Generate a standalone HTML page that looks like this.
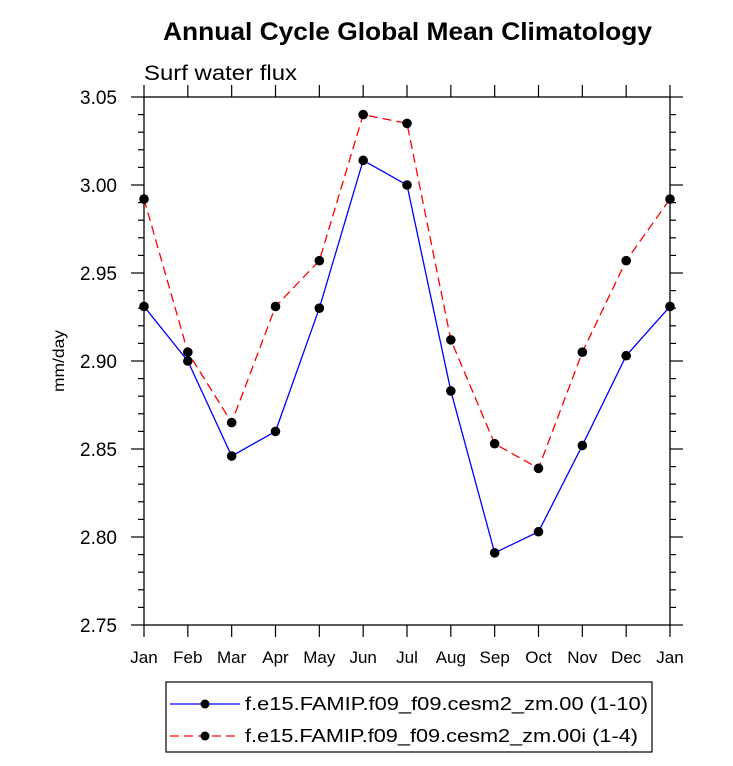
<!DOCTYPE html>
<html><head><meta charset="utf-8"><style>body{margin:0;background:#fff}svg text{font-family:"Liberation Sans",sans-serif}</style></head>
<body>
<svg id="c" width="733" height="761">
<text x="163" y="40" font-size="25" font-weight="bold" textLength="489" lengthAdjust="spacingAndGlyphs">Annual Cycle Global Mean Climatology</text>
<text x="144" y="80" font-size="21" textLength="153" lengthAdjust="spacingAndGlyphs">Surf water flux</text>
<text transform="translate(64,361) rotate(-90)" text-anchor="middle" font-size="16" textLength="62" lengthAdjust="spacingAndGlyphs">mm/day</text>
<g id="ax"></g><g id="series"></g>
<g>
<rect x="166" y="682" width="486" height="70" fill="none" stroke="#000" stroke-width="1.2"/>
<g>
<line x1="170" y1="704" x2="240" y2="704" stroke="#00f" stroke-width="1.3"/><circle cx="205" cy="704" r="4.5"/>
<text x="245" y="710" font-size="18" textLength="403" lengthAdjust="spacingAndGlyphs">f.e15.FAMIP.f09_f09.cesm2_zm.00 (1-10)</text></g>
<g>
<line x1="170" y1="736" x2="240" y2="736" stroke="#f00" stroke-width="1.3" stroke-dasharray="9,5"/><circle cx="205" cy="736" r="4.5"/>
<text x="245" y="742" font-size="18" textLength="393" lengthAdjust="spacingAndGlyphs">f.e15.FAMIP.f09_f09.cesm2_zm.00i (1-4)</text></g>
</g>
</svg>
<script>
const months=["Jan","Feb","Mar","Apr","May","Jun","Jul","Aug","Sep","Oct","Nov","Dec","Jan"];
const seriesA=[2.931,2.900,2.846,2.860,2.930,3.014,3.000,2.883,2.791,2.803,2.852,2.903,2.931];
const seriesB=[2.992,2.905,2.865,2.931,2.957,3.040,3.035,2.912,2.853,2.839,2.905,2.957,2.992];
const yTicks=["2.75","2.80","2.85","2.90","2.95","3.00","3.05"];
const L=144,R=670,T=97,B=625,yMin=2.75,yMax=3.05;
const X=i=>L+(R-L)*i/(months.length-1);
const Y=v=>B-(v-yMin)/(yMax-yMin)*(B-T);
const NS="http://www.w3.org/2000/svg";
function mk(tag,attrs,parent){const e=document.createElementNS(NS,tag);for(const k in attrs)e.setAttribute(k,attrs[k]);parent.appendChild(e);return e;}
const ax=document.getElementById('ax');
const frame=mk('rect',{x:L,y:T,width:R-L,height:B-T,fill:'none',stroke:'#000','stroke-width':1.3},ax);


months.forEach((m,i)=>{const x=X(i);
mk('line',{x1:x,y1:B,x2:x,y2:B+12,stroke:'#000','stroke-width':1.2},ax);
mk('line',{x1:x,y1:T,x2:x,y2:T-12,stroke:'#000','stroke-width':1.2},ax);
const t=mk('text',{x:x,y:B+38,'text-anchor':'middle','font-size':17},ax);t.textContent=m;

});
for(let v=yMin;v<=yMax+1e-9;v+=0.01){const y=Y(v);const major=Math.round(v*100)%5===0;const len=major?13:6;
mk('line',{x1:L-len,y1:y,x2:L,y2:y,stroke:'#000','stroke-width':1.2},ax);
mk('line',{x1:R,y1:y,x2:R+len,y2:y,stroke:'#000','stroke-width':1.2},ax);}
yTicks.forEach(s=>{const t=mk('text',{x:L-27,y:Y(+s)+7,'text-anchor':'end','font-size':19},ax);t.textContent=s;

});
const sg=document.getElementById('series');
function draw(vals,color,dash,name){const g=mk('g',{},sg);


mk('polyline',{points:vals.map((v,i)=>X(i)+','+Y(v)).join(' '),fill:'none',stroke:color,'stroke-width':1.3,'stroke-dasharray':dash},g);
vals.forEach((v,i)=>{const c=mk('circle',{cx:X(i),cy:Y(v),r:4.8,fill:'#000'},g);

});}
draw(seriesA,'#00f','none','series-zm00');
draw(seriesB,'#f00','9,5','series-zm00i');
</script>
</body></html>
